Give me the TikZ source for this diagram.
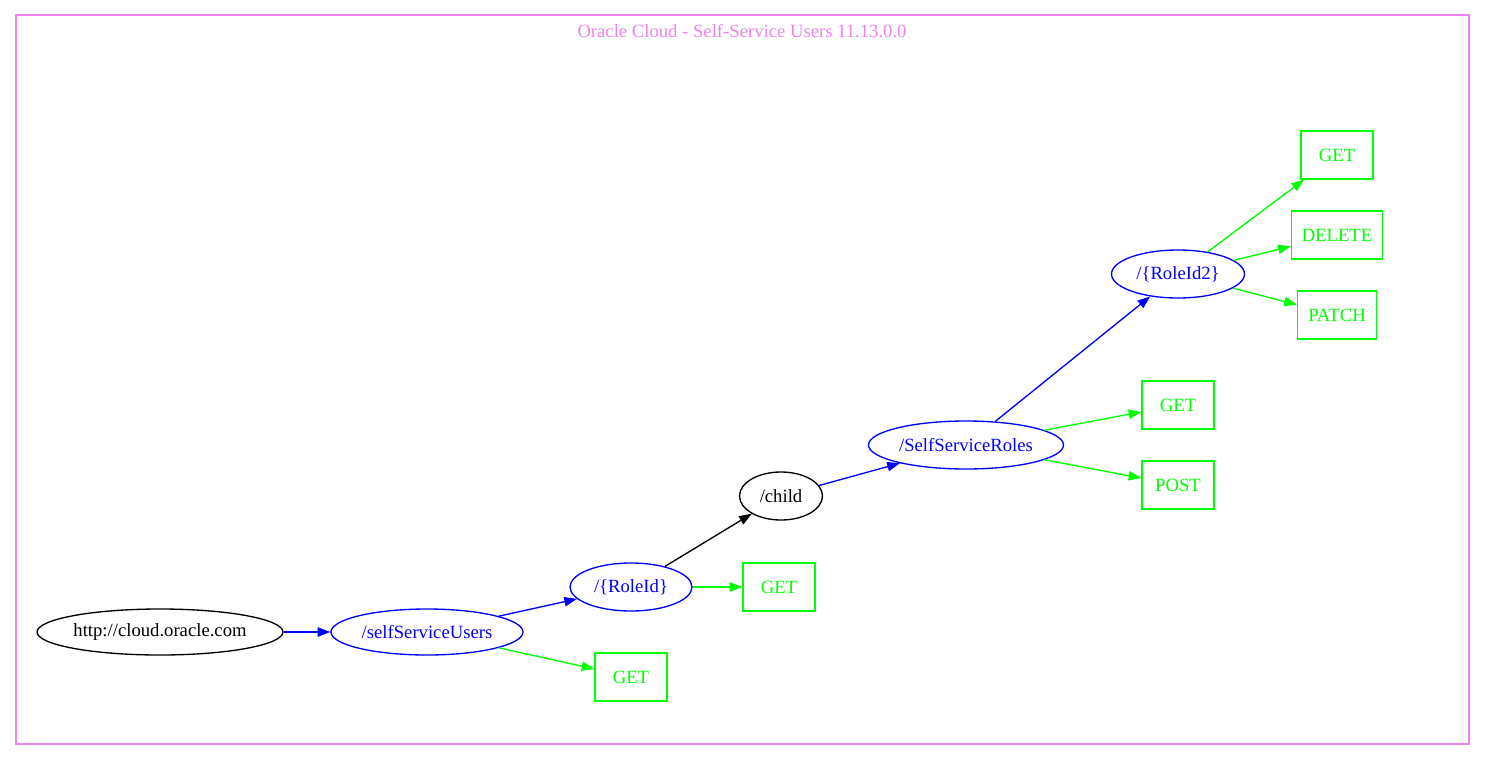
\documentclass[tikz,border=0pt]{standalone}
\usepackage{fontspec}
\setmainfont{Liberation Serif}
\usetikzlibrary{shapes.geometric,arrows.meta}
\definecolor{gvviolet}{HTML}{EE82EE}
\definecolor{gvgreen}{HTML}{00FF00}
\definecolor{gvblue}{HTML}{0000FF}
\begin{document}
\begin{tikzpicture}[x=0.75pt,y=-0.75pt,
  every node/.style={font=\fontsize{14pt}{16pt}\selectfont, inner sep=0pt},
  res/.style={ellipse, draw, line width=1pt},
  pathres/.style={res, draw=gvblue, text=gvblue},
  verb/.style={rectangle, draw=gvgreen, text=gvgreen, line width=1pt, minimum height=48*0.75pt},
  edge/.style={line width=1pt, -{Triangle[length=9.5pt,width=7pt]}},
  pathedge/.style={edge, draw=gvblue, fill=gvblue},
  verbedge/.style={edge, draw=gvgreen, fill=gvgreen},
  childedge/.style={edge, draw=black, fill=black}]
  \useasboundingbox (0,0) rectangle (1485,760);
  % cluster frame and title
  \draw[gvviolet, line width=1pt] (16,15) rectangle (1469,744);
  \node[text=gvviolet] (title) at (742,31) {Oracle Cloud - Self-Service Users 11.13.0.0};

  % resources
  \node[res, minimum width=246*0.75pt, minimum height=46*0.75pt] (root) at (160,632) {http://cloud.oracle.com};
  \node[pathres, minimum width=192*0.75pt, minimum height=46*0.75pt] (users) at (427,632) {/selfServiceUsers};
  \node[pathres, minimum width=122*0.75pt, minimum height=48*0.75pt] (roleid) at (631,587) {/\{RoleId\}};
  \node[res, minimum width=83*0.75pt, minimum height=48*0.75pt] (child) at (781,496) {/child};
  \node[pathres, minimum width=195*0.75pt, minimum height=48*0.75pt] (roles) at (966,445) {/SelfServiceRoles};
  \node[pathres, minimum width=133*0.75pt, minimum height=48*0.75pt] (roleid2) at (1178,274) {/\{RoleId2\}};

  % methods
  \node[verb, minimum width=72*0.75pt] (usersget) at (631,677) {GET};
  \node[verb, minimum width=72*0.75pt] (roleidget) at (779,587) {GET};
  \node[verb, minimum width=72*0.75pt] (rolesget) at (1178,405) {GET};
  \node[verb, minimum width=72*0.75pt] (rolespost) at (1178,485) {POST};
  \node[verb, minimum width=72*0.75pt] (roleid2get) at (1337,155) {GET};
  \node[verb, minimum width=91*0.75pt] (roleid2delete) at (1337,235) {DELETE};
  \node[verb, minimum width=79*0.75pt] (roleid2patch) at (1337,315) {PATCH};

  % connectors
  \draw[pathedge] (root) -- (users);
  \draw[pathedge] (users) -- (roleid);
  \draw[verbedge] (users) -- (usersget);
  \draw[childedge] (roleid) -- (child);
  \draw[verbedge] (roleid) -- (roleidget);
  \draw[pathedge] (child) -- (roles);
  \draw[verbedge] (roles) -- (rolesget);
  \draw[verbedge] (roles) -- (rolespost);
  \draw[pathedge] (roles) -- (roleid2);
  \draw[verbedge] (roleid2) -- (roleid2get);
  \draw[verbedge] (roleid2) -- (roleid2delete);
  \draw[verbedge] (roleid2) -- (roleid2patch);
\end{tikzpicture}
\end{document}
